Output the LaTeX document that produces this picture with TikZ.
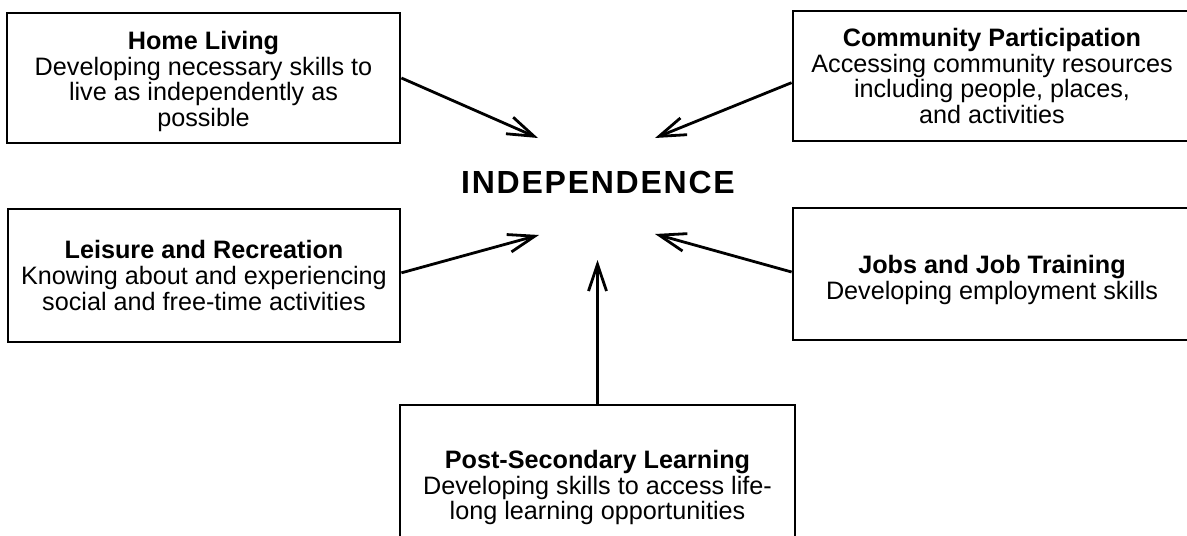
\documentclass[tikz,border=0pt]{standalone}
\usepackage{fontspec}
\setmainfont{Liberation Sans}
\usetikzlibrary{arrows.meta}
\begin{document}
\begin{tikzpicture}[x=0.75pt,y=-0.75pt,
  areabox/.style={draw,line width=2.1pt,align=center,inner sep=0pt,
    font=\fontsize{18.9}{19.4}\selectfont},
  link/.style={line width=2.1pt,
    -{Straight Barb[length=20pt,width=13.5pt,line width=2.1pt]}}]
\clip (0,0) rectangle (1187,535);

% central goal
\node (goal) at (598,182)
  {\fontsize{24}{24}\selectfont\bfseries\addfontfeature{LetterSpace=5.5}INDEPENDENCE};

% the five areas
\node[areabox,minimum width=294.75pt,minimum height=97.5pt] (home) at (203.5,78)
  {\rule{0pt}{19pt}\textbf{Home Living}\\Developing necessary skills to\\live as independently as\\possible};
\node[areabox,minimum width=298.5pt,minimum height=97.5pt] (community) at (992,76)
  {\textbf{Community Participation}\\Accessing community resources\\including people, places,\\and activities};
\node[areabox,minimum width=294pt,minimum height=99.75pt] (leisure) at (204,275.5)
  {\textbf{Leisure and Recreation}\\Knowing about and experiencing\\social and free-time activities};
\node[areabox,minimum width=298.5pt,minimum height=99pt] (jobs) at (992,274)
  {\rule{0pt}{23pt}\textbf{Jobs and Job Training}\\Developing employment skills};
\node[areabox,minimum width=296.25pt,minimum height=123.75pt] (post) at (597.5,487.5)
  {\textbf{Post-Secondary Learning}\\Developing skills to access life-\\long learning opportunities};

% arrow tips around the goal
\coordinate (tipHome) at (538,138);
\coordinate (tipCommunity) at (655,138);
\coordinate (tipLeisure) at (539,235);
\coordinate (tipJobs) at (655,234);
\coordinate (tipPost) at (597.5,260);

\draw[link] (home.east) -- (tipHome);
\draw[link] ([yshift=-5pt]community.west) -- (tipCommunity);
\draw[link] ([yshift=2pt]leisure.east) -- (tipLeisure);
\draw[link] ([yshift=1.5pt]jobs.west) -- (tipJobs);
\draw[link] (post.north) -- (tipPost);
\end{tikzpicture}
\end{document}
